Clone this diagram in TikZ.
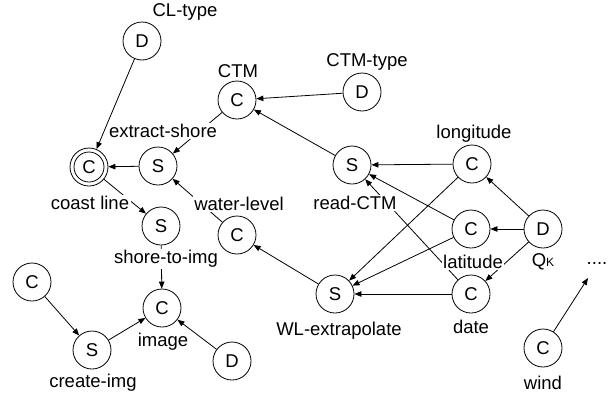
\documentclass[tikz,border=0pt]{standalone}
\usepackage{fontspec}
\setmainfont{Liberation Sans}
\usetikzlibrary{arrows.meta}
\newcommand\lblfont{\fontsize{18.5}{20}\selectfont}
\tikzset{
  vtx/.style={circle, draw, minimum size=38pt, inner sep=0pt, font=\lblfont},
  dblvtx/.style={vtx, path picture={\draw (path picture bounding box.center) circle (15pt);}},
  lab/.style={fill=white, inner sep=1.5pt, font=\lblfont},
  edge/.style={-{Triangle[length=7pt,width=5.5pt]}}
}
\begin{document}
\begin{tikzpicture}[x=1pt,y=-1pt,line width=0.8pt]
\useasboundingbox (0,0) rectangle (615,399);
% vertices
\node[vtx] (cltype) at (142,41) {D};
\node[dblvtx] (coast) at (89,167) {C};
\node[vtx] (ctm) at (237,100) {C};
\node[vtx] (ctmtype) at (362,92) {D};
\node[vtx] (extract) at (158,166) {S};
\node[vtx] (readctm) at (352,165) {S};
\node[vtx] (lon) at (472,164) {C};
\node[vtx] (shore) at (161,226) {S};
\node[vtx] (wlev) at (237,235) {C};
\node[vtx] (lat) at (471,229) {C};
\node[vtx] (qk) at (543,229) {D};
\node[vtx] (lc) at (32,282) {C};
\node[vtx] (image) at (162,308) {C};
\node[vtx] (create) at (92,350) {S};
\node[vtx] (bd) at (232,361) {D};
\node[vtx] (wlx) at (335,294) {S};
\node[vtx] (date) at (471,294) {C};
\node[vtx] (wind) at (543,348) {C};
\node[font=\lblfont, anchor=base] (dots) at (597,264) {....};
\coordinate (dotsend) at (588,278);
% edges
\draw[edge] (cltype) -- (coast);
\draw[edge] (extract) -- (coast);
\draw[edge] (ctm) -- (extract);
\draw[edge] (ctmtype) -- (ctm);
\draw[edge] (readctm) -- (ctm);
\draw[edge] (lon) -- (readctm);
\draw[edge] (lat) -- (readctm);
\draw[edge] (date) -- (readctm);
\draw[edge] (qk) -- (lon);
\draw[edge] (qk) -- (lat);
\draw[edge] (qk) -- (date);
\draw[edge] (lon) -- (wlx);
\draw[edge] (lat) -- (wlx);
\draw[edge] (date) -- (wlx);
\draw[edge] (wlx) -- (wlev);
\draw[edge] (wlev) -- (extract);
\draw[edge] (coast) -- (shore);
\draw[edge] (shore) -- (image);
\draw[edge] (lc) -- (create);
\draw[edge] (create) -- (image);
\draw[edge] (bd) -- (image);
\draw[edge] (wind) -- (dotsend);
% labels
\node[lab] (lcltype) at (185,12) {CL-type};
\node[lab] (lctm) at (238,71) {CTM};
\node[lab] (lctmtype) at (367,62) {CTM-type};
\node[lab] (lextract) at (163,131) {extract-shore};
\node[lab] (llon) at (474,134) {longitude};
\node[lab] (lcoast) at (90,203) {coast line};
\node[lab] (lwlev) at (239,204) {water-level};
\node[lab] (lreadctm) at (355,203) {read-CTM};
\node[lab] (lshore) at (166,259) {shore-to-img};
\node[lab] (llat) at (473,262) {latitude};
\node[lab] (lqk) at (543,262) {Q{\fontsize{12}{12}\selectfont K}};
\node[lab] (ldate) at (471,327) {date};
\node[lab] (lwlx) at (339,331) {WL-extrapolate};
\node[lab] (limage) at (163,342) {image};
\node[lab] (lcreate) at (93,383) {create-img};
\node[lab] (lwind) at (543,383) {wind};
\end{tikzpicture}
\end{document}
